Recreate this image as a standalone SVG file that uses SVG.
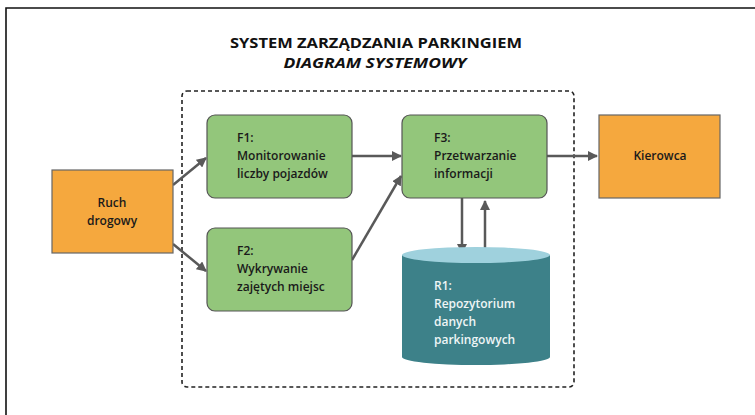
<svg xmlns="http://www.w3.org/2000/svg" width="755" height="415" viewBox="0 0 755 415">
  <defs>
    <marker id="arrow" viewBox="0 0 10 10" refX="9" refY="5" markerWidth="4" markerHeight="4" orient="auto" markerUnits="strokeWidth">
      <path d="M0,0 L10,5 L0,10 z" fill="#595959"/>
    </marker>
  </defs>
  <style>
    .title { font-family: "Open Sans", "Noto Sans", sans-serif; font-weight: 700; font-size: 14.5px; fill: #111; }
    .lbl { font-family: "Open Sans", "Noto Sans", sans-serif; font-weight: 600; font-size: 12px; fill: #1a1a1a; }
    .lbl-w { font-family: "Open Sans", "Noto Sans", sans-serif; font-weight: 600; font-size: 12px; fill: #eef5f6; }
    .ext { fill: #F5A83E; stroke: #666; stroke-width: 1.2; }
    .proc { fill: #93C67B; stroke: #555; stroke-width: 1.2; }
    .conn { stroke: #595959; stroke-width: 2.5; fill: none; marker-end: url(#arrow); }
  </style>

  <rect width="755" height="415" fill="#fff"/>
  <!-- page frame -->
  <path d="M6,415 V8 H755" fill="none" stroke="#111" stroke-width="1.6"/>

  <!-- heading -->
  <text class="title" x="376" y="48" text-anchor="middle" textLength="292" lengthAdjust="spacingAndGlyphs">SYSTEM ZARZĄDZANIA PARKINGIEM</text>
  <text class="title" x="375" y="68" text-anchor="middle" font-style="italic" textLength="183" lengthAdjust="spacingAndGlyphs">DIAGRAM SYSTEMOWY</text>

  <!-- system boundary -->
  <rect id="boundary" x="182" y="91" width="392" height="296" rx="5" fill="none" stroke="#222" stroke-width="1.6" stroke-dasharray="4 3"/>

  <g id="connectors">
    <line class="conn" x1="173" y1="185" x2="206" y2="158"/>
    <line class="conn" x1="173" y1="244" x2="206" y2="271"/>
    <line class="conn" x1="352" y1="156" x2="401" y2="156"/>
    <line class="conn" x1="352" y1="260" x2="401" y2="176"/>
    <line class="conn" x1="547" y1="156" x2="597" y2="156"/>
    <line class="conn" x1="462" y1="198" x2="462" y2="253"/>
    <line class="conn" x1="485" y1="254" x2="485" y2="201"/>
  </g>

  <g id="ruch-drogowy">
    <rect class="ext" x="52" y="170" width="121" height="83"/>
    <text class="lbl" x="112" y="207" text-anchor="middle">Ruch</text>
    <text class="lbl" x="112" y="225" text-anchor="middle">drogowy</text>
  </g>

  <g id="f1">
    <rect class="proc" x="207" y="115" width="145" height="83" rx="8"/>
    <text class="lbl" x="237" y="142">F1:</text>
    <text class="lbl" x="237" y="160">Monitorowanie</text>
    <text class="lbl" x="237" y="178">liczby pojazdów</text>
  </g>

  <g id="f2">
    <rect class="proc" x="207" y="228" width="145" height="83" rx="8"/>
    <text class="lbl" x="237" y="255">F2:</text>
    <text class="lbl" x="237" y="273">Wykrywanie</text>
    <text class="lbl" x="237" y="291">zajętych miejsc</text>
  </g>

  <g id="f3">
    <rect class="proc" x="402" y="115" width="145" height="83" rx="8"/>
    <text class="lbl" x="434" y="142">F3:</text>
    <text class="lbl" x="434" y="160">Przetwarzanie</text>
    <text class="lbl" x="434" y="178">informacji</text>
  </g>

  <g id="kierowca">
    <rect class="ext" x="599" y="115" width="121" height="83"/>
    <text class="lbl" x="660" y="160" text-anchor="middle">Kierowca</text>
  </g>

  <g id="r1">
    <path d="M402,255 V357 A74,8 0 0 0 550,357 V255 z" fill="#3D8189"/>
    <ellipse cx="476" cy="255" rx="74" ry="8" fill="#9FD1DD"/>
    <text class="lbl-w" x="434" y="290">R1:</text>
    <text class="lbl-w" x="434" y="308">Repozytorium</text>
    <text class="lbl-w" x="434" y="326">danych</text>
    <text class="lbl-w" x="434" y="344">parkingowych</text>
  </g>
</svg>
